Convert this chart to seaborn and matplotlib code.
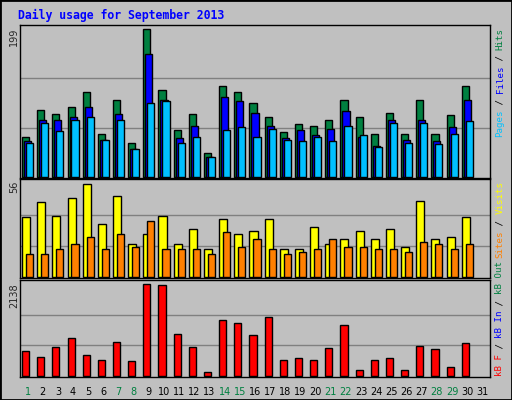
import matplotlib
matplotlib.use("Agg")
import matplotlib.pyplot as plt
import seaborn as sns
import numpy as np

sns.set_style("white")
plt.rcParams['font.family'] = ['DejaVu Sans Mono']

days = list(range(1, 32))
data_days = list(range(1, 31))
hits  = [54,90,84,94,115,58,103,46,199,117,63,84,32,123,114,99,81,60,71,68,77,104,81,58,86,58,104,57,83,122]
files = [48,76,77,81,94,50,84,37,165,103,52,69,27,108,102,86,69,52,63,56,65,88,54,42,76,49,77,48,67,103]
pages = [45,73,61,77,81,49,77,38,100,102,46,54,27,63,67,54,64,49,48,53,48,68,56,40,73,45,73,44,57,75]
visits = [36,45,37,47.5,56,32,49,20,26,37,20,29,17,35,26,28,35,17,17,30,20,23,28,23,29,18,46,23,24,36]
sites  = [13.5,14,17,20,24,17,26,18,33.5,17,17,17,14,27,18,23,17,13.5,15,17,23,18,18,17,17,15,21,20,17,20]
kbytes = [570,429,663,874,476,359,780,336,2138,2115,967,663,78,1295,1225,944,1365,359,406,359,640,1178,125,359,406,125,687,616,195,757]
weekend = [1,7,8,14,15,21,22,28,29]

W, H = 512, 400
fig = plt.figure(figsize=(W/100, H/100), dpi=100, facecolor="#c0c0c0")
BG = "#c0c0c0"

def mk_ax(top, bottom):
    ax = fig.add_axes([20/W, 1-bottom/H, 470/W, (bottom-top)/H])
    ax.set_facecolor(BG)
    for s in ax.spines.values():
        s.set_color("black"); s.set_linewidth(1)
    return ax

def bars(ax, vals, offset, width, color):
    x = [d + offset for d in data_days]
    sns.barplot(x=x, y=vals, native_scale=True, width=width, color=color,
                edgecolor="black", linewidth=1, saturation=1, ax=ax, zorder=3)

ax1 = mk_ax(25, 178)
ax1.set_ylim(-1.8, 199 + 4.3*199/147.4)
for g in (199/3, 2*199/3):
    ax1.axhline(g, color="#808080", lw=1, zorder=1)
bars(ax1, hits, -0.13, 0.47, "#008040")
bars(ax1, files, 0.0, 0.47, "#0000ff")
bars(ax1, pages, 0.13, 0.47, "#00c0ff")

ax2 = mk_ax(179, 278)
s2 = 56/92.4
ax2.set_ylim(-1.3*s2, 56 + 5.3*s2)
for g in (56/3, 2*56/3):
    ax2.axhline(g, color="#808080", lw=1, zorder=1)
bars(ax2, visits, -0.1, 0.53, "#ffff00")
bars(ax2, sites, 0.13, 0.47, "#ff8000")

ax3 = mk_ax(280, 377)
s3 = 2138/91.4
ax3.set_ylim(-1.3*s3, 2138 + 4.3*s3)
for g in (2138/3, 2*2138/3):
    ax3.axhline(g, color="#808080", lw=1, zorder=1)
bars(ax3, kbytes, -0.13, 0.47, "#ff0000")

for ax in (ax1, ax2, ax3):
    ax.set_xlim(0.5, 31.5)
    ax.set_xlabel(""); ax.set_ylabel("")
    ax.set_xticks([]); ax.set_yticks([])

for d in days:
    ax3.text(d, -0.15, str(d), transform=ax3.get_xaxis_transform(), ha="center", va="center",
             fontsize=7, color="#008040" if d in weekend else "black",
             family=["DejaVu Sans"])

fig.text(18/W, 1-15/H, "Daily usage for September 2013", color="#0000ff",
         fontsize=8.3, fontweight="bold", va="center", ha="left")

for txt, ytop in (("199", 28), ("56", 181), ("2138", 283)):
    fig.text(14/W, 1-ytop/H, txt, rotation=90, fontsize=7, ha="center", va="top",
             family=["DejaVu Sans"])

CH = 5.45
def legend(ybottom, parts):
    y = ybottom
    for txt, col in parts:
        fig.text(500/W, 1-y/H, txt, rotation=90, color=col, fontsize=6.6,
                 ha="center", va="bottom")
        y -= CH*len(txt)

legend(137, [("Pages", "#00c0ff"), (" / ", "black"), ("Files", "#0000ff"),
             (" / ", "black"), ("Hits", "#008040")])
legend(258, [("Sites", "#ff8000"), (" / ", "black"), ("Visits", "#ffff00")])
legend(376, [("kB F", "#ff0000"), (" / ", "black"), ("kB In", "#0000ff"),
             (" / ", "black"), ("kB Out", "#008040")])

fig.patches.append(plt.Rectangle((0, 0), 1, 1, transform=fig.transFigure,
                                 fill=False, edgecolor="black", lw=2))
fig.savefig("out.png", dpi=100, facecolor=BG)
